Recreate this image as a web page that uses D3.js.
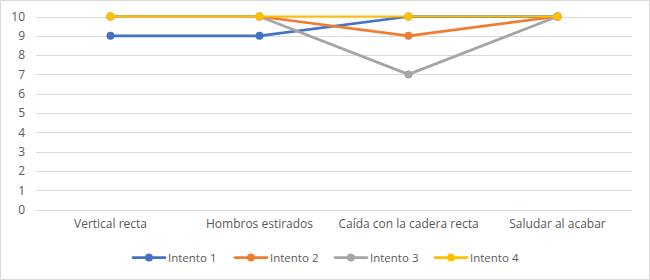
<!DOCTYPE html>
<html><head><meta charset="utf-8">
<script src="https://cdn.jsdelivr.net/npm/d3@7"></script>
<style>body{margin:0;background:#fff}svg{display:block}</style>
</head><body>
<script>
const categories = ["Vertical recta", "Hombros estirados", "Caída con la cadera recta", "Saludar al acabar"];
const seriesNames = ["Intento 1", "Intento 2", "Intento 3", "Intento 4"];
const intento1 = [9, 9, 10, 10];
const intento2 = [10, 10, 9, 10];
const intento3 = [10, 10, 7, 10];
const intento4 = [10, 10, 10, 10];
const yTicks = [0,1,2,3,4,5,6,7,8,9,10];
const colors = ["#4472C4", "#ED7D31", "#A5A5A5", "#FFC000"];
const series = [intento1, intento2, intento3, intento4];

const W = 650, H = 280;
const svg = d3.select("body").append("svg").attr("width", W).attr("height", H);
svg.append("rect").attr("x",0.5).attr("y",0.5).attr("width",W-1).attr("height",H-1).attr("fill","#fff").attr("stroke","#D9D9D9");

const font = "'Open Sans', 'Noto Sans', sans-serif";
const x = d3.scaleBand().domain(categories).range([36, 632]);
const y = d3.scaleLinear().domain([0, 10]).range([209.5, 16.5]);

// gridlines
svg.append("g").selectAll("line").data(yTicks).join("line")
  .attr("x1", 36).attr("x2", 632)
  .attr("y1", d => Math.round(y(d)) + 0.5).attr("y2", d => Math.round(y(d)) + 0.5)
  .attr("stroke", "#D9D9D9").attr("stroke-width", 1);

// y axis labels
const yAxis = d3.axisLeft(y).tickValues(yTicks).tickSize(0).tickPadding(0);
const gy = svg.append("g").attr("transform", "translate(25,0)").call(yAxis);
gy.select(".domain").remove();
gy.selectAll("text").attr("fill", "#595959").style("font-family", font).style("font-size", "12px");

// x axis labels
const xAxis = d3.axisBottom(x).tickSize(0).tickPadding(0);
const gx = svg.append("g").attr("transform", "translate(0,219)").call(xAxis);
gx.select(".domain").remove();
gx.selectAll("text").attr("fill", "#595959").style("font-family", font).style("font-size", "12px");

const cx = c => x(c) + x.bandwidth() / 2;
const line = d3.line().x((d, i) => cx(categories[i])).y(d => y(d));

series.forEach((s, k) => {
  const g = svg.append("g");
  g.append("path").datum(s).attr("d", line).attr("fill", "none")
    .attr("stroke", colors[k]).attr("stroke-width", k === 3 ? 2 : 2.75).attr("stroke-linejoin", "round").attr("stroke-linecap", "round");
  g.selectAll("circle").data(s).join("circle")
    .attr("cx", (d, i) => cx(categories[i])).attr("cy", d => y(d)).attr("r", 4).attr("fill", colors[k]);
});

// legend
const legendX = [133, 235, 335, 435];
const lg = svg.append("g");
seriesNames.forEach((n, k) => {
  const gx0 = legendX[k];
  lg.append("line").attr("x1", gx0).attr("x2", gx0 + 32).attr("y1", 257.5).attr("y2", 257.5)
    .attr("stroke", colors[k]).attr("stroke-width", 2.75).attr("stroke-linecap", "round");
  lg.append("circle").attr("cx", gx0 + 16).attr("cy", 257.5).attr("r", 4).attr("fill", colors[k]);
  lg.append("text").attr("x", gx0 + 35).attr("y", 257.5).attr("dy", "0.35em")
    .attr("fill", "#595959").style("font-family", font).style("font-size", "11.5px").text(n);
});
</script>
</body></html>
